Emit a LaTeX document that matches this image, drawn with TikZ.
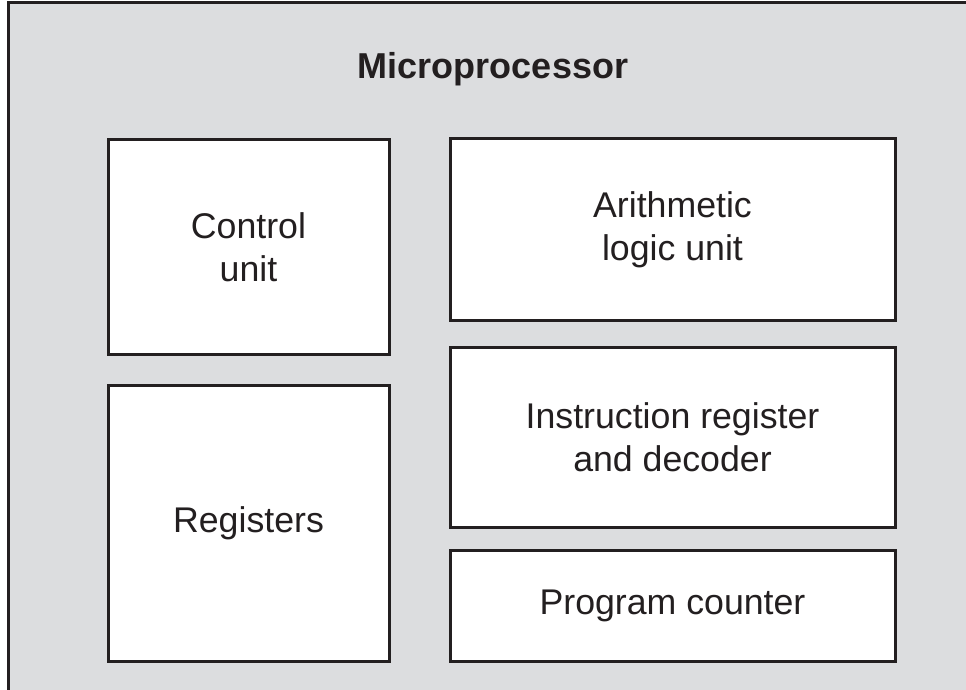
\documentclass[tikz,border=0pt]{standalone}
\usepackage{fontspec}
\setmainfont{Liberation Sans}
\definecolor{bggray}{HTML}{DCDDDF}
\definecolor{ink}{HTML}{231F20}
\begin{document}
\begin{tikzpicture}[x=1pt,y=-1pt,
  unit/.style={draw=ink,line width=3pt,fill=white,align=center,
    font=\fontsize{35.7}{43}\selectfont,text=ink,inner sep=0pt}]
\useasboundingbox (0,0) rectangle (966,690);
\begin{scope}
\clip (0,0) rectangle (966,690);
\draw[draw=ink,line width=3pt,fill=bggray] (8,3) rectangle (1000,720);
\end{scope}
\node[font=\bfseries\fontsize{36}{43}\selectfont,text=ink] (title) at (493,69) {Microprocessor};
\node[unit,minimum width=281pt,minimum height=214pt] (cu) at (248.5,247) {Control\\unit};
\node[unit,minimum width=281pt,minimum height=276pt] (reg) at (248.5,523) {Registers};
\node[unit,minimum width=445pt,minimum height=181pt] (alu) at (672.5,229.5) {Arithmetic\\logic unit};
\node[unit,minimum width=445pt,minimum height=180pt] (ir) at (672.5,437) {Instruction register\\and decoder};
\node[unit,minimum width=445pt,minimum height=111pt] (pc) at (672.5,605.5) {Program counter};
\end{tikzpicture}
\end{document}
